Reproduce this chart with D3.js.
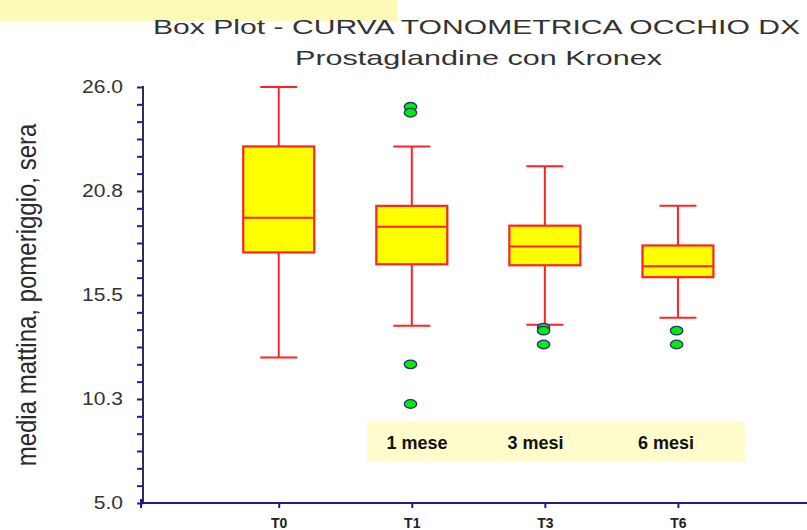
<!DOCTYPE html>
<html>
<head>
<meta charset="utf-8">
<script src="https://cdn.jsdelivr.net/npm/d3@7"></script>
<style>
  html, body { margin: 0; padding: 0; background: #ffffff; }
  svg { display: block; }
  text { font-family: "Liberation Sans", Arial, sans-serif; }
</style>
</head>
<body>
<svg id="chart" width="807" height="530"></svg>
<script>
// Intraocular pressure summary per visit
const categories   = ["T0", "T1", "T3", "T6"];
const whiskerLow   = [12.35, 13.95, 14.0, 14.35];
const quartile1    = [17.65, 17.05, 17.0, 16.4];
const medians      = [19.4, 18.95, 17.95, 16.95];
const quartile3    = [23.0, 20.0, 19.0, 18.0];
const whiskerHigh  = [26.0, 23.0, 22.0, 20.0];
const outliers     = [[], [25.0, 24.7, 12.0, 10.0], [13.85, 13.7, 13.0], [13.7, 13.0]];

// Y axis labelled ticks and their text
const yTickValues  = [26, 20.75, 15.5, 10.25, 5];
const yTickLabels  = ["26.0", "20.8", "15.5", "10.3", "5.0"];

// Period notes shown under the boxes
const periodNotes  = ["1 mese", "3 mesi", "6 mesi"];
const periodNoteX  = [386.5, 507.5, 638];

const titleLines   = ["Box Plot - CURVA TONOMETRICA OCCHIO DX", "Prostaglandine con Kronex"];
const yTitle       = "media mattina, pomeriggio, sera";

const svg = d3.select("#chart");

const x = d3.scaleLinear().domain([-1.02, 3.97]).range([143, 807]);
const y = d3.scaleLinear().domain([5, 26]).range([503, 87]);

const boxW = 71, capW = 37;
const red = "#ff2222", navy = "#1c1c96";
const stretch = 1.17;

// highlight strip at top left
svg.append("rect").attr("x", 0).attr("y", 0).attr("width", 397).attr("height", 21)
  .attr("fill", "#fdfab9");

// titles
svg.append("text").attr("x", 153).attr("y", 33.5).attr("font-size", 21).attr("fill", "#333")
  .attr("textLength", 647).attr("lengthAdjust", "spacingAndGlyphs").text(titleLines[0]);
svg.append("text").attr("x", 295).attr("y", 64.5).attr("font-size", 21).attr("fill", "#333")
  .attr("textLength", 367).attr("lengthAdjust", "spacingAndGlyphs").text(titleLines[1]);

// y axis title
svg.append("text")
  .attr("transform", `translate(36,295) scale(1.19,1) rotate(-90)`)
  .attr("text-anchor", "middle").attr("font-size", 24).attr("fill", "#2a2a2a")
  .text(yTitle);

// period note panel
svg.append("rect").attr("x", 367).attr("y", 421).attr("width", 378).attr("height", 41)
  .attr("fill", "#fefccb");
svg.selectAll("text.note").data(periodNotes).join("text")
  .attr("class", "note")
  .attr("x", (d, i) => periodNoteX[i]).attr("y", 449)
  .attr("font-size", 18).attr("font-weight", "bold").attr("fill", "#111")
  .text(d => d);

// y axis: minor ticks
const minorTicks = d3.range(0, 25).map(i => 5 + i * 0.875);
const yAxisG = svg.append("g").attr("transform", "translate(143,0)");
yAxisG.call(d3.axisLeft(y).tickValues(minorTicks).tickSize(6).tickFormat(""))
  .call(g => g.select(".domain").remove())
  .call(g => g.selectAll(".tick line").attr("stroke", navy).attr("stroke-width", 2));
yAxisG.append("line").attr("x1", 0).attr("x2", 0).attr("y1", y(26) - 1).attr("y2", y(5) + 1)
  .attr("stroke", "#2d2d55").attr("stroke-width", 2);

// y axis labels
yTickValues.forEach((v, i) => {
  svg.append("text")
    .attr("transform", `translate(123,${y(v)}) scale(${stretch},1)`)
    .attr("text-anchor", "end").attr("dy", "0.36em")
    .attr("font-size", 18).attr("fill", "#333")
    .text(yTickLabels[i]);
});

// x axis
const xAxisG = svg.append("g").attr("transform", "translate(0,503)");
xAxisG.append("line").attr("x1", 141).attr("x2", 807).attr("y1", 0).attr("y2", 0)
  .attr("stroke", navy).attr("stroke-width", 2);
xAxisG.call(d3.axisBottom(x).tickValues(d3.range(categories.length)).tickSize(5)
    .tickFormat(i => categories[i]))
  .call(g => g.select(".domain").remove())
  .call(g => g.selectAll(".tick line").attr("stroke", navy).attr("stroke-width", 2))
  .call(g => g.selectAll(".tick text")
    .attr("y", 25).attr("dy", 0)
    .attr("font-size", 14).attr("font-weight", "bold").attr("fill", "#222")
    .attr("font-family", "'Liberation Sans', Arial, sans-serif"));
svg.append("line").attr("x1", 141).attr("x2", 141).attr("y1", 499).attr("y2", 508)
  .attr("stroke", navy).attr("stroke-width", 2);

// boxes
const boxes = svg.append("g");
categories.forEach((c, i) => {
  const cx = x(i);
  const g = boxes.append("g");
  // whiskers
  g.append("line").attr("x1", cx).attr("x2", cx).attr("y1", y(whiskerHigh[i])).attr("y2", y(quartile3[i]))
    .attr("stroke", red).attr("stroke-width", 2);
  g.append("line").attr("x1", cx).attr("x2", cx).attr("y1", y(quartile1[i])).attr("y2", y(whiskerLow[i]))
    .attr("stroke", red).attr("stroke-width", 2);
  g.append("line").attr("x1", cx - capW / 2).attr("x2", cx + capW / 2)
    .attr("y1", y(whiskerHigh[i])).attr("y2", y(whiskerHigh[i]))
    .attr("stroke", red).attr("stroke-width", 2);
  g.append("line").attr("x1", cx - capW / 2).attr("x2", cx + capW / 2)
    .attr("y1", y(whiskerLow[i])).attr("y2", y(whiskerLow[i]))
    .attr("stroke", red).attr("stroke-width", 2);
  // box
  g.append("rect").attr("x", cx - boxW / 2).attr("width", boxW)
    .attr("y", y(quartile3[i])).attr("height", y(quartile1[i]) - y(quartile3[i]))
    .attr("fill", "#ffff00").attr("stroke", red).attr("stroke-width", 2.2);
  // median
  g.append("line").attr("x1", cx - boxW / 2).attr("x2", cx + boxW / 2)
    .attr("y1", y(medians[i])).attr("y2", y(medians[i]))
    .attr("stroke", red).attr("stroke-width", 2);
  // outliers
  g.selectAll("ellipse").data(outliers[i]).join("ellipse")
    .attr("cx", cx - 1.3).attr("cy", d => y(d))
    .attr("rx", 6.2).attr("ry", 4.3)
    .attr("fill", "#00ee00").attr("stroke", "#2a2a8a").attr("stroke-width", 1.3);
});
</script>
</body>
</html>
